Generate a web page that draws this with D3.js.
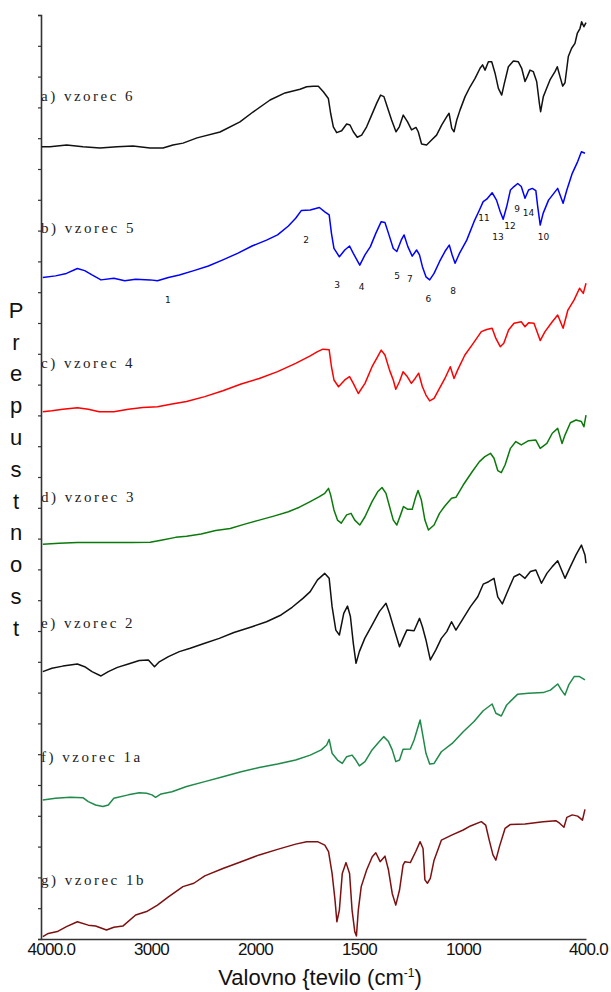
<!DOCTYPE html>
<html>
<head>
<meta charset="utf-8">
<script src="https://cdn.jsdelivr.net/npm/d3@7"></script>
<style>
  body { margin: 0; background: #fff; }
  svg text { white-space: pre; }
</style>
</head>
<body>
<div id="chart"></div>
<script>
// sample names, top to bottom
const sampleNames = ['a) vzorec 6', 'b) vzorec 5', 'c) vzorec 4', 'd) vzorec 3',
    'e) vzorec 2', 'f) vzorec 1a', 'g) vzorec 1b'];
// level (stacked transmittance units) where each name sits
const labelLevels = [27.37, 23.08, 18.7, 14.35, 10.26, 5.91, 1.92];

const tickValues = [4000, 3000, 2000, 1500, 1000, 400];
const tickLabels = ['4000.0', '3000', '2000', '1500', '1000', '400.0'];

// [wavenumber cm-1, stacked transmittance]
const spectrumA = [[3993,25.72],[3915,25.72],[3758,25.78],[3604,25.72],[3443,25.68],[3283,25.72],[3132,25.75],
    [2972,25.68],[2849,25.68],[2755,25.78],[2660,25.84],[2528,26.01],[2311,26.2],[2123,26.53],[2000,26.85],
    [1918,27.24],[1846,27.47],[1774,27.59],[1742,27.67],[1710,27.69],[1686,27.69],[1662,27.51],[1638,27.29],
    [1627,26.81],[1614,26.37],[1598,26.18],[1574,26.24],[1550,26.46],[1534,26.43],[1518,26.21],[1499,26.03],
    [1478,26.1],[1454,26.37],[1430,26.75],[1406,27.13],[1387,27.4],[1371,27.35],[1355,27.02],[1334,26.59],
    [1313,26.21],[1297,26.37],[1278,26.75],[1258,26.54],[1238,26.27],[1217,26.35],[1206,26.21],[1190,25.81],
    [1166,25.78],[1142,25.94],[1118,26.1],[1093,26.43],[1069,26.7],[1058,26.81],[1045,26.32],[1034,26.21],
    [1021,26.59],[1005,26.92],[981,27.35],[957,27.67],[933,27.94],[909,28.27],[897,28.38],[885,28.21],
    [869,28.48],[853,28.48],[837,28.11],[821,27.62],[805,27.4],[794,27.73],[773,28.32],[749,28.51],
    [725,28.48],[709,28.27],[693,27.84],[682,28.0],[669,28.21],[653,28.16],[637,27.84],[624,27.13],
    [618,26.86],[605,27.35],[589,27.62],[573,27.89],[549,28.16],[538,28.32],[525,28.0],[512,27.69],
    [501,27.8],[485,28.65],[469,28.92],[453,29.08],[442,29.4],[429,29.56],[421,29.78],[410,29.62],[400,29.75]];

const spectrumB = [[3983,21.48],[3863,21.53],[3760,21.61],[3657,21.77],[3588,21.7],[3519,21.56],[3434,21.4],
    [3313,21.45],[3210,21.37],[3107,21.42],[2970,21.4],[2901,21.37],[2798,21.48],[2695,21.56],[2558,21.7],
    [2421,21.85],[2284,22.05],[2146,22.26],[2009,22.5],[1935,22.69],[1882,22.86],[1830,23.15],[1795,23.4],
    [1768,23.65],[1725,23.67],[1681,23.75],[1655,23.61],[1634,23.51],[1623,22.91],[1611,22.42],[1585,22.15],
    [1559,22.37],[1536,22.5],[1518,22.26],[1487,21.88],[1462,22.21],[1436,22.48],[1410,22.91],[1384,23.29],
    [1366,23.26],[1349,22.91],[1326,22.42],[1309,22.32],[1288,22.69],[1274,22.86],[1256,22.48],[1235,22.17],
    [1214,22.37],[1200,22.21],[1186,21.83],[1169,21.5],[1151,21.4],[1130,21.61],[1104,21.99],[1078,22.32],
    [1057,22.53],[1043,22.21],[1029,21.94],[1008,22.26],[973,22.69],[938,23.29],[912,23.67],[894,23.94],
    [877,24.02],[851,24.23],[830,23.99],[812,23.61],[798,23.37],[781,23.78],[763,24.32],[746,24.43],
    [728,24.53],[711,24.43],[693,24.05],[676,24.32],[658,24.37],[641,24.3],[632,23.78],[620,23.18],
    [606,23.56],[580,23.99],[536,24.37],[510,23.89],[492,24.32],[466,24.86],[440,25.24],[422,25.56],[405,25.51]];

const spectrumC = [[3983,17.12],[3897,17.15],[3794,17.2],[3657,17.25],[3554,17.2],[3451,17.12],[3313,17.12],
    [3176,17.2],[3039,17.26],[2901,17.28],[2764,17.37],[2627,17.45],[2455,17.61],[2284,17.8],[2112,18.02],
    [1970,18.2],[1882,18.42],[1795,18.69],[1725,18.93],[1690,19.07],[1664,19.15],[1634,19.13],[1623,18.58],
    [1611,18.15],[1589,17.93],[1559,18.15],[1536,18.26],[1518,18.04],[1494,17.71],[1462,18.04],[1428,18.58],
    [1401,18.91],[1384,19.12],[1366,18.96],[1344,18.47],[1326,18.15],[1314,17.85],[1296,18.1],[1279,18.42],
    [1261,18.28],[1239,18.04],[1221,18.2],[1204,18.37],[1186,17.93],[1169,17.66],[1151,17.47],[1130,17.55],
    [1104,17.88],[1078,18.2],[1052,18.58],[1034,18.2],[1017,18.47],[982,18.96],[947,19.29],[903,19.72],
    [877,19.79],[851,19.83],[833,19.5],[812,19.23],[795,19.34],[772,19.77],[746,19.99],[711,20.04],
    [693,19.88],[676,20.01],[650,19.99],[632,19.66],[620,19.43],[597,19.72],[562,20.04],[536,20.26],
    [510,19.83],[487,20.42],[457,20.75],[431,21.13],[413,20.96],[400,21.29]];

const spectrumD = [[3983,12.82],[3828,12.85],[3657,12.87],[3485,12.87],[3313,12.87],[3142,12.87],[2970,12.88],
    [2867,12.95],[2730,13.04],[2627,13.08],[2489,13.15],[2352,13.26],[2215,13.33],[2077,13.47],[1970,13.6],
    [1900,13.73],[1830,13.87],[1777,14.02],[1725,14.2],[1681,14.36],[1655,14.47],[1637,14.63],[1627,14.42],
    [1611,13.93],[1594,13.6],[1576,13.5],[1550,13.77],[1529,13.82],[1511,13.6],[1487,13.44],[1462,13.71],
    [1428,14.2],[1401,14.52],[1380,14.66],[1361,14.47],[1344,14.04],[1326,13.6],[1309,13.44],[1291,13.77],
    [1277,14.04],[1256,13.95],[1235,13.95],[1218,14.36],[1207,14.56],[1191,14.25],[1174,13.6],[1157,13.28],
    [1130,13.44],[1104,13.82],[1078,14.06],[1046,14.31],[1025,14.34],[990,14.74],[947,15.17],[912,15.5],
    [886,15.66],[859,15.77],[842,15.61],[824,15.21],[807,15.14],[789,15.39],[763,15.93],[737,16.15],
    [711,16.04],[676,16.18],[641,16.2],[620,15.93],[588,16.09],[562,16.42],[536,16.58],[515,16.09],
    [501,16.36],[475,16.76],[448,16.85],[422,16.8],[410,16.63],[400,17.01]];

const spectrumE = [[3983,8.68],[3897,8.79],[3794,8.86],[3657,8.93],[3588,8.84],[3519,8.68],[3434,8.54],
    [3365,8.68],[3279,8.82],[3176,8.93],[3073,9.04],[2987,9.06],[2929,8.84],[2884,9.0],[2798,9.17],
    [2695,9.33],[2592,9.44],[2455,9.6],[2318,9.76],[2180,9.95],[2009,10.14],[1935,10.3],[1865,10.52],
    [1812,10.77],[1760,11.06],[1725,11.28],[1690,11.66],[1655,11.87],[1634,11.71],[1620,10.79],[1602,10.03],
    [1585,9.87],[1564,10.57],[1546,10.81],[1532,10.47],[1518,9.6],[1505,8.95],[1489,9.33],[1463,9.76],
    [1428,10.19],[1393,10.63],[1361,10.9],[1344,10.57],[1323,10.09],[1296,9.49],[1279,9.76],[1261,10.03],
    [1226,10.01],[1200,10.41],[1186,10.14],[1169,9.71],[1148,9.06],[1122,9.38],[1095,9.76],[1069,9.98],
    [1046,10.3],[1025,10.03],[990,10.41],[955,10.79],[920,11.11],[894,11.52],[868,11.6],[842,11.71],
    [824,11.11],[802,10.88],[781,11.22],[746,11.76],[719,11.85],[693,11.71],[667,11.93],[641,11.98],
    [614,11.55],[588,11.87],[562,12.09],[536,12.28],[501,11.71],[475,12.09],[448,12.47],[422,12.79],
    [405,12.47],[400,12.2]];

const spectrumF = [[3983,4.51],[3863,4.57],[3725,4.6],[3605,4.59],[3554,4.46],[3485,4.35],[3416,4.3],
    [3365,4.35],[3313,4.57],[3176,4.68],[3073,4.75],[3004,4.73],[2953,4.68],[2919,4.6],[2867,4.71],
    [2764,4.78],[2627,4.95],[2455,5.11],[2284,5.27],[2112,5.43],[1970,5.57],[1882,5.68],[1795,5.81],
    [1725,5.97],[1672,6.14],[1646,6.3],[1634,6.48],[1620,6.03],[1594,5.81],[1571,5.7],[1550,5.92],
    [1524,5.97],[1506,5.81],[1489,5.62],[1462,5.76],[1428,6.14],[1393,6.41],[1372,6.57],[1349,6.41],
    [1331,6.14],[1314,5.76],[1296,5.81],[1279,6.16],[1244,6.17],[1226,6.46],[1209,6.84],[1197,7.11],
    [1183,6.57],[1169,6.03],[1151,5.68],[1130,5.7],[1095,6.08],[1043,6.35],[990,6.73],[938,7.06],
    [894,7.41],[851,7.63],[833,7.33],[807,7.24],[781,7.6],[728,7.95],[676,7.98],[606,8.0],[571,8.08],
    [536,8.28],[518,8.08],[501,7.92],[483,8.25],[457,8.52],[431,8.52],[405,8.41]];

const spectrumG = [[3983,0.08],[3931,0.18],[3846,0.24],[3760,0.4],[3657,0.56],[3554,0.45],[3485,0.42],
    [3382,0.29],[3313,0.38],[3228,0.42],[3107,0.78],[3004,0.89],[2901,1.1],[2798,1.37],[2661,1.7],
    [2558,1.81],[2455,2.05],[2284,2.29],[2112,2.51],[1970,2.73],[1882,2.91],[1795,3.08],[1742,3.16],
    [1690,3.16],[1655,3.05],[1637,2.84],[1620,2.13],[1606,1.27],[1597,0.56],[1585,0.94],[1571,2.13],
    [1553,2.48],[1536,2.13],[1524,0.94],[1511,0.24],[1503,0.1],[1494,0.94],[1480,1.7],[1454,2.24],
    [1427,2.67],[1410,2.8],[1389,2.51],[1366,2.69],[1349,2.24],[1331,1.48],[1314,1.1],[1296,1.59],
    [1279,2.4],[1270,2.51],[1244,2.48],[1218,2.84],[1197,3.16],[1183,2.94],[1174,1.92],[1162,1.81],
    [1148,1.97],[1130,2.56],[1095,3.21],[1043,3.38],[990,3.54],[955,3.67],[903,3.81],[882,3.7],
    [865,3.21],[847,2.73],[833,2.56],[816,3.0],[789,3.59],[763,3.72],[693,3.73],[606,3.81],[545,3.84],
    [527,3.76],[506,3.63],[492,3.95],[466,4.03],[440,3.99],[417,3.86],[405,4.21]];

const spectra = [spectrumA, spectrumB, spectrumC, spectrumD, spectrumE, spectrumF, spectrumG];

// numbered bands marked on spectrum b: [label, wavenumber, level]
const bandMarks = [['1',2802,20.75],['2',1745,22.69],['3',1596,21.23],['4',1478,21.17],['5',1308,21.53],
    ['7',1246,21.43],['6',1157,20.78],['8',1039,21.04],['11',890,23.41],['13',823,22.79],['12',765,23.15],
    ['9',731,23.7],['14',676,23.58],['10',604,22.79]];

const yLetters = 'Prepustnost'.split('');

const colors = ['#111111', '#0000ff', '#ff0000', '#0b7a0b', '#111111', '#1f8a4a', '#7d1010'];

const width = 611,
    height = 992;

const svg = d3.select('#chart')
    .append('svg')
    .attr('width', width)
    .attr('height', height);

// spectrometer style axis: 4000-2000 compressed by half
const x = d3.scaleLinear()
    .domain([4000, 2000, 400])
    .range([41, 253, 586]);

const y = d3.scaleLinear()
    .domain([0, 30])
    .range([939, 15]);

// left axis with minor ticks only
const yAxis = svg.append('g')
    .attr('transform', `translate(${x(4000)},0)`)
    .call(d3.axisLeft(y).ticks(30).tickSize(3).tickFormat(''));
yAxis.select('.domain').attr('stroke', '#333').attr('stroke-width', 1.6);
yAxis.selectAll('.tick line').attr('stroke', '#333').attr('stroke-width', 1.2);

// bottom axis
const xAxis = svg.append('g')
    .attr('transform', `translate(0,${y(0)})`)
    .call(d3.axisBottom(x).tickValues(tickValues).tickSize(0)
        .tickFormat((d, i) => tickLabels[i]));
xAxis.select('.domain').attr('stroke', '#333').attr('stroke-width', 1.6);
xAxis.selectAll('.tick text')
    .attr('y', 4)
    .attr('dy', '0.71em')
    .attr('font-family', '"Liberation Sans Narrow", "Liberation Sans", sans-serif')
    .attr('font-size', 17)
    .attr('letter-spacing', -0.7)
    .attr('fill', '#111')
    .attr('text-anchor', (d, i) => i === 0 ? 'start' : 'middle')
    .attr('dx', (d, i) => i === 0 ? -14 : (i === 1 ? 4 : 2));

const line = d3.line()
    .x(d => x(d[0]))
    .y(d => y(d[1]));

svg.selectAll('.spectrum')
    .data(spectra)
    .enter().append('path')
    .attr('class', 'spectrum')
    .attr('d', line)
    .attr('fill', 'none')
    .attr('stroke', (d, i) => colors[i])
    .attr('stroke-width', 1.5)
    .attr('stroke-linejoin', 'round');

svg.selectAll('.sample')
    .data(sampleNames)
    .enter().append('text')
    .attr('class', 'sample')
    .attr('x', x(4000))
    .attr('y', (d, i) => y(labelLevels[i]))
    .attr('dy', '0.35em')
    .attr('font-family', '"Liberation Serif", "Times New Roman", serif')
    .attr('font-size', 15)
    .attr('letter-spacing', 2.5)
    .attr('fill', '#222')
    .text(d => d);

svg.selectAll('.band')
    .data(bandMarks)
    .enter().append('text')
    .attr('class', 'band')
    .attr('x', d => x(d[1]))
    .attr('y', d => y(d[2]))
    .attr('dy', '0.35em')
    .attr('text-anchor', 'middle')
    .attr('font-family', '"DejaVu Sans", sans-serif')
    .attr('font-size', 9)
    .attr('fill', '#111')
    .text(d => d[0]);

// y title, one letter per row
svg.selectAll('.ytitle')
    .data(yLetters)
    .enter().append('text')
    .attr('class', 'ytitle')
    .attr('x', 16)
    .attr('y', (d, i) => 310 + i * 31.8)
    .attr('dy', '0.35em')
    .attr('text-anchor', 'middle')
    .attr('font-family', '"Liberation Sans", Arial, sans-serif')
    .attr('font-size', 22)
    .attr('fill', '#111')
    .text(d => d);

const xTitle = svg.append('text')
    .attr('x', 320)
    .attr('y', 985)
    .attr('text-anchor', 'middle')
    .attr('font-family', '"Liberation Sans", Arial, sans-serif')
    .attr('font-size', 22)
    .attr('fill', '#111');
xTitle.append('tspan').text('Valovno {tevilo (cm');
xTitle.append('tspan').attr('dy', -8).attr('font-size', 12).text('-1');
xTitle.append('tspan').attr('dy', 8).text(')');
</script>
</body>
</html>
